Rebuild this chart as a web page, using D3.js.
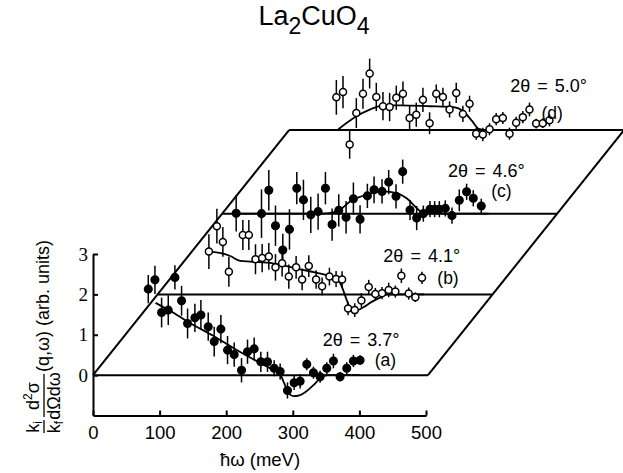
<!DOCTYPE html>
<html>
<head>
<meta charset="utf-8">
<script src="https://cdn.jsdelivr.net/npm/d3@7"></script>
<style>
  body { margin: 0; background: #fff; }
  svg { display: block; }
</style>
</head>
<body>
<svg id="chart" width="623" height="473"></svg>
<script>
// Data: [hbar omega (meV), intensity (arb. units), error]
const pointsA = [
    [83, 2.13, 0.35], [93, 2.36, 0.35], [103, 1.55, 0.37], [113, 1.61, 0.37], [123, 2.42, 0.30],
    [133, 1.84, 0.37], [142, 1.28, 0.37], [153, 1.42, 0.35], [162, 1.49, 0.37], [173, 1.20, 0.35],
    [182, 0.83, 0.37], [192, 1.14, 0.35], [202, 0.62, 0.35], [212, 0.51, 0.30], [223, 0.12, 0.30],
    [232, 0.58, 0.30], [242, 0.65, 0.28], [252, 0.33, 0.25], [262, 0.33, 0.25], [272, 0.17, 0.20],
    [281, 0.09, 0.20], [292, -0.38, 0.20], [302, -0.19, 0.18], [311, -0.15, 0.18], [321, 0.27, 0.15],
    [331, 0.06, 0.15], [341, -0.04, 0.15], [351, 0.17, 0.15], [361, 0.35, 0.18], [371, -0.04, 0.12],
    [381, 0.17, 0.15], [391, 0.35, 0.15], [401, 0.37, 0.12]
];
const pointsB = [
    [77, 1.06, 0.43], [89, 1.69, 0.43], [98, 1.30, 0.37], [107, 0.56, 0.37], [128, 1.47, 0.37],
    [137, 1.47, 0.37], [147, 0.87, 0.37], [157, 0.90, 0.35], [167, 0.94, 0.33], [177, 0.67, 0.33],
    [187, 0.77, 0.33], [197, 0.44, 0.30], [208, 0.67, 0.28], [217, 0.37, 0.27], [227, 0.70, 0.27],
    [238, 0.37, 0.23], [247, 0.20, 0.22], [258, 0.44, 0.22], [268, 0.38, 0.20], [277, 0.37, 0.20],
    [286, -0.35, 0.17], [296, -0.39, 0.17], [306, -0.15, 0.18], [317, 0.18, 0.18], [327, 0.01, 0.15],
    [337, 0.03, 0.15], [347, 0.11, 0.18], [357, 0.07, 0.15], [366, 0.46, 0.18], [377, 0.02, 0.15],
    [387, -0.07, 0.12], [397, 0.41, 0.15]
];
const pointsC = [
    [21, 0.01, 0.45], [59, 0.00, 0.60], [70, 0.58, 0.50], [80, -0.30, 0.50], [91, -0.90, 0.40],
    [101, -0.39, 0.50], [112, 0.63, 0.40], [122, 0.34, 0.50], [133, -0.03, 0.45], [144, 0.05, 0.45],
    [155, 0.63, 0.40], [165, -0.27, 0.40], [175, 0.08, 0.40], [186, -0.09, 0.40], [197, 0.37, 0.40],
    [207, -0.14, 0.35], [218, 0.44, 0.30], [228, 0.59, 0.33], [240, 0.55, 0.30], [250, 0.78, 0.30],
    [261, 0.43, 0.30], [271, 1.04, 0.30], [282, 0.09, 0.25], [292, -0.11, 0.30], [302, 0.00, 0.20],
    [312, 0.11, 0.20], [319, 0.11, 0.20], [326, 0.11, 0.20], [335, 0.13, 0.20], [345, -0.05, 0.20],
    [356, 0.33, 0.27], [367, 0.54, 0.20], [377, 0.38, 0.20], [389, 0.19, 0.18]
];
const pointsD = [
    [71, 0.81, 0.43], [81, 0.94, 0.40], [91, -0.36, 0.35], [101, 0.42, 0.37], [111, 0.90, 0.37],
    [121, 1.40, 0.37], [131, 0.82, 0.35], [141, 0.59, 0.35], [151, 0.57, 0.35], [161, 0.80, 0.30],
    [171, 0.90, 0.30], [181, 0.30, 0.30], [191, 0.38, 0.30], [201, 0.75, 0.30], [211, 0.17, 0.27],
    [221, 0.90, 0.23], [231, 0.82, 0.23], [241, 0.51, 0.20], [251, 0.92, 0.25], [261, 0.40, 0.20],
    [271, 0.65, 0.20], [281, -0.09, 0.15], [291, -0.11, 0.17], [301, 0.02, 0.15], [311, 0.27, 0.15],
    [321, 0.30, 0.15], [331, -0.09, 0.15], [341, 0.18, 0.15], [351, 0.32, 0.15], [361, 0.51, 0.17],
    [371, 0.16, 0.12], [381, 0.17, 0.12], [391, 0.24, 0.15]
];

// Fitted curves (solid lines)
const fitA = [[94, 1.79], [120, 1.55], [150, 1.25], [180, 0.98], [210, 0.68], [240, 0.40], [265, 0.18],
    [280, 0.05], [287, -0.20], [294, -0.45], [301, -0.52], [310, -0.50], [318, -0.43], [331, -0.25],
    [341, -0.08], [352, 0], [400, 0]];
const fitB = [[79, 1.06], [95, 1.02], [109, 0.95], [124, 0.83], [139, 0.81], [173, 0.77], [214, 0.62],
    [238, 0.54], [264, 0.41], [274, 0.28], [284, -0.14], [289, -0.35], [299, -0.39], [309, -0.32],
    [322, -0.18], [334, -0.08], [344, 0], [400, 0]];
const fitC = [[20, 0], [150, 0], [172, 0.05], [192, 0.30], [217, 0.47], [242, 0.55], [262, 0.51],
    [277, 0.38], [292, 0.14], [302, 0.01], [320, 0], [400, 0]];
const fitD = [[74, 0.02], [97, 0.30], [122, 0.51], [142, 0.61], [167, 0.61], [212, 0.59], [247, 0.57],
    [262, 0.46], [275, 0.22], [285, 0.03], [297, 0], [400, 0]];

const offsets = [0, 2, 4, 6.07];           // vertical offset of each spectrum baseline
const filled = [true, false, true, false]; // filled vs open symbols
const angleLabels = ["2\u03b8 = 3.7\u00b0", "2\u03b8 = 4.1\u00b0", "2\u03b8 = 4.6\u00b0", "2\u03b8 = 5.0\u00b0"];
const tags = ["(a)", "(b)", "(c)", "(d)"];
const xTicks = [0, 100, 200, 300, 400, 500];
const yTicks = [0, 1, 2, 3];
const edgeE = 503; // right end of baselines (meV)

const series = [pointsA, pointsB, pointsC, pointsD];
const fits = [fitA, fitB, fitC, fitD];

const svg = d3.select("#chart");
const font = "'Liberation Sans', Arial, sans-serif";

// Scales
const xScale = d3.scaleLinear().domain([0, 500]).range([93, 426]);
const yScale = d3.scaleLinear().domain([-1, 3]).range([415.5, 254]);
const slant = 0.8; // oblique shift of stacked baselines
// x position of energy w on the spectrum whose baseline sits at offset o
const sx = (w, o) => xScale(w) + slant * (yScale(0) - yScale(o));

// Stacked baselines + parallelogram frame
const frameGroup = svg.append("g")
    .attr("stroke", "#000")
    .attr("stroke-width", 2)
    .attr("fill", "none");
const topOffset = offsets[offsets.length - 1];
const frameLine = d3.line().x(d => sx(d[0], d[1])).y(d => yScale(d[1]));
offsets.forEach(o => {
    frameGroup.append("path").attr("d", frameLine([[0, o], [edgeE, o]]));
});
frameGroup.append("path").attr("d", frameLine([[0, 0], [0, topOffset]]));
frameGroup.append("path").attr("d", frameLine([[edgeE, 0], [edgeE, topOffset]]));

// Axes
const xAxis = svg.append("g")
    .attr("transform", `translate(0,${yScale(-1)})`)
    .call(d3.axisBottom(xScale).tickValues(xTicks).tickSizeInner(-5).tickSizeOuter(0).tickPadding(10));
xAxis.selectAll("path, line").attr("stroke-width", 2);
xAxis.selectAll("text")
    .attr("font-size", "18.5px")
    .attr("font-family", font)
    .attr("fill", "#000");

const yAxis = svg.append("g")
    .attr("transform", `translate(${xScale(0)},0)`)
    .call(d3.axisLeft(yScale).tickValues(yTicks).tickFormat(d3.format("d"))
        .tickSizeInner(-5).tickSizeOuter(0).tickPadding(5));
yAxis.selectAll("path, line").attr("stroke-width", 2);
yAxis.selectAll("text")
    .attr("font-size", "19px")
    .attr("font-family", "'Liberation Serif', 'Times New Roman', serif")
    .attr("fill", "#000");

// Fitted curves
const fitLine = d3.line().curve(d3.curveMonotoneX);
fits.forEach((f, i) => {
    const o = offsets[i];
    svg.append("path")
        .attr("d", fitLine(f.map(d => [sx(d[0], o), yScale(o + d[1])])))
        .attr("fill", "none")
        .attr("stroke", "#000")
        .attr("stroke-width", 1.8);
});

// Data points with error bars (back to front)
[3, 2, 1, 0].forEach(i => {
    const o = offsets[i];
    const g = svg.append("g");
    g.selectAll("line")
        .data(series[i])
        .enter()
        .append("line")
        .attr("x1", d => sx(d[0], o))
        .attr("x2", d => sx(d[0], o))
        .attr("y1", d => yScale(o + d[1] - d[2]))
        .attr("y2", d => yScale(o + d[1] + d[2]))
        .attr("stroke", "#000")
        .attr("stroke-width", 1.5);
    g.selectAll("circle")
        .data(series[i])
        .enter()
        .append("circle")
        .attr("cx", d => sx(d[0], o))
        .attr("cy", d => yScale(o + d[1]))
        .attr("r", filled[i] ? 3.8 : 3.5)
        .attr("fill", filled[i] ? "#000" : "#fff")
        .attr("stroke", "#000")
        .attr("stroke-width", 1.5);
});

// Series labels
const labelPos = [[345, 0.72], [339, 0.80], [339, 0.90], [332, 0.95]];
const tagPos = [[423, 0.22], [420, 0.26], [404, 0.42], [379, 0.28]];
offsets.forEach((o, i) => {
    svg.append("text")
        .attr("x", sx(labelPos[i][0], o))
        .attr("y", yScale(o + labelPos[i][1]))
        .attr("font-family", font)
        .attr("font-size", "18px")
        .attr("word-spacing", "2px")
        .text(angleLabels[i]);
    svg.append("text")
        .attr("x", sx(tagPos[i][0], o))
        .attr("y", yScale(o + tagPos[i][1]))
        .attr("font-family", font)
        .attr("font-size", "17.5px")
        .text(tags[i]);
});

// Title
const title = svg.append("text")
    .attr("x", 314)
    .attr("y", 25)
    .attr("text-anchor", "middle")
    .attr("font-family", font)
    .attr("font-size", "27px");
title.append("tspan").text("La");
title.append("tspan").attr("font-size", "23px").attr("dy", 9).text("2");
title.append("tspan").attr("dy", -9).text("CuO");
title.append("tspan").attr("font-size", "23px").attr("dy", 9).text("4");

// X axis label
svg.append("text")
    .attr("x", 260)
    .attr("y", 466)
    .attr("text-anchor", "middle")
    .attr("font-family", font)
    .attr("font-size", "18.5px")
    .text("\u0127\u03c9 (meV)");

// Y axis label (rotated, with fractions)
const yLab = svg.append("g")
    .attr("transform", "translate(43,433) rotate(-90)")
    .attr("font-family", font)
    .attr("font-size", "18px");
const kNum = yLab.append("text").attr("x", 6).attr("y", -4).attr("text-anchor", "middle");
kNum.append("tspan").text("k");
kNum.append("tspan").attr("font-size", "12px").attr("dy", 3).text("i");
const kDen = yLab.append("text").attr("x", 6).attr("y", 17).attr("text-anchor", "middle");
kDen.append("tspan").text("k");
kDen.append("tspan").attr("font-size", "12px").attr("dy", 3).text("f");
yLab.append("line").attr("x1", 0).attr("x2", 13).attr("y1", 1).attr("y2", 1)
    .attr("stroke", "#000").attr("stroke-width", 1.3);
const dNum = yLab.append("text").attr("x", 37).attr("y", -4).attr("text-anchor", "middle");
dNum.append("tspan").text("d");
dNum.append("tspan").attr("font-size", "12px").attr("dy", -7).text("2");
dNum.append("tspan").attr("dy", 7).text("\u03c3");
yLab.append("text").attr("x", 37).attr("y", 17).attr("text-anchor", "middle").text("d\u03a9d\u03c9");
yLab.append("line").attr("x1", 16).attr("x2", 59).attr("y1", 1).attr("y2", 1)
    .attr("stroke", "#000").attr("stroke-width", 1.3);
yLab.append("text")
    .attr("x", 61)
    .attr("y", 6)
    .attr("font-size", "18px")
    .text("(q,\u03c9) (arb. units)");
</script>
</body>
</html>
